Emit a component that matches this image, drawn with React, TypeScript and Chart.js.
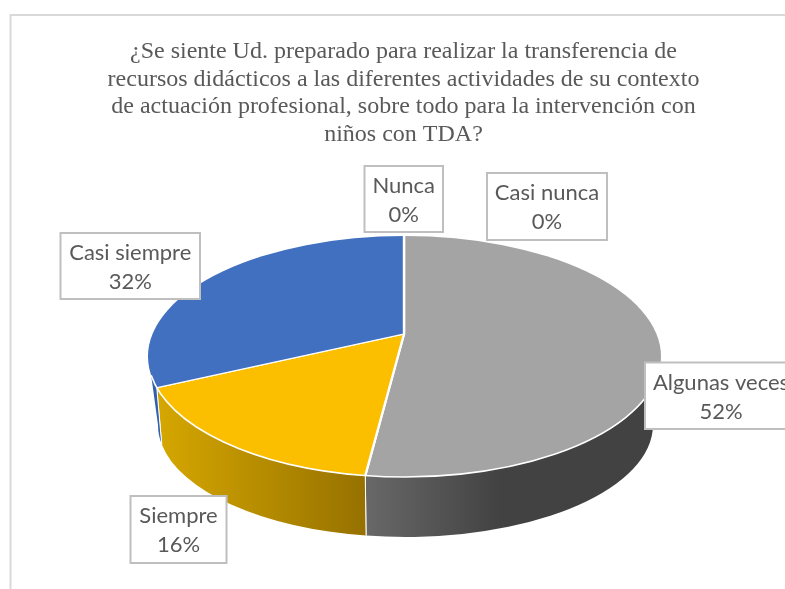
import { useEffect, useRef } from "react";
import { Chart, registerables } from "chart.js";

Chart.register(...registerables);

const categories = ["Nunca", "Casi nunca", "Algunas veces", "Siempre", "Casi siempre"];
const percentages = [0, 0, 52, 16, 32];
const topColors = ["#5B9BD5", "#ED7D31", "#A4A4A4", "#FBBF00", "#4270C0"];
const titleLines = [
  "¿Se siente Ud. preparado para realizar la transferencia de",
  "recursos didácticos a las diferentes actividades de su contexto",
  "de actuación profesional, sobre todo para la intervención con",
  "niños con TDA?",
];

// Label box layout: [left, top, right, bottom], same order as categories
const labelBoxes = [
  [364.5, 166, 443, 232],
  [487, 173, 607, 240],
  [645, 362.5, 797, 429],
  [130.5, 496, 226.5, 563],
  [60.5, 233, 200, 299],
];

const APEX = { x: 404, y: 334 };
const TILT = 0.462;
const TOP = { x: 404.5, y: 356.5, rx: 256.5, ry: 120.5 };
const BASE = { x: 405.5, y: 425, rx: 247.5, ry: 112 };
const T_MIN = (9 * Math.PI) / 180;
const T_MAX = (171 * Math.PI) / 180;

function rimParam(angle: number) {
  const dx = Math.cos(angle);
  const dy = TILT * Math.sin(angle);
  const ox = (APEX.x - TOP.x) / TOP.rx;
  const oy = (APEX.y - TOP.y) / TOP.ry;
  const vx = dx / TOP.rx;
  const vy = dy / TOP.ry;
  const a = vx * vx + vy * vy;
  const b = 2 * (ox * vx + oy * vy);
  const c = ox * ox + oy * oy - 1;
  const s = (-b + Math.sqrt(b * b - 4 * a * c)) / (2 * a);
  let t = Math.atan2(oy + s * vy, ox + s * vx);
  if (t < -Math.PI / 2 - 1e-6) t += Math.PI * 2;
  return t;
}

function baseParam(t: number) {
  const xt = TOP.x + TOP.rx * Math.cos(t);
  const xb = xt + (404.5 - xt) * 0.02;
  const c = Math.max(-1, Math.min(1, (xb - BASE.x) / BASE.rx));
  return Math.atan2(Math.sqrt(1 - c * c), c);
}

function wallFill(ctx: CanvasRenderingContext2D, index: number) {
  if (index === 2) {
    const g = ctx.createLinearGradient(366, 0, 500, 0);
    g.addColorStop(0, "#686868");
    g.addColorStop(1, "#424242");
    return g;
  }
  if (index === 3) {
    const g = ctx.createLinearGradient(157, 0, 366, 0);
    g.addColorStop(0, "#D6A700");
    g.addColorStop(1, "#967100");
    return g;
  }
  return "#3261AE";
}

const pie3d = {
  id: "pie3d",
  beforeDraw(chart: any) {
    const { ctx } = chart;
    ctx.save();
    ctx.strokeStyle = "#D9D9D9";
    ctx.lineWidth = 2;
    ctx.strokeRect(10.5, 15, 800, 600);
    ctx.restore();
  },
  beforeDatasetsDraw(chart: any) {
    const { ctx } = chart;
    const arcs = chart.getDatasetMeta(0).data;
    arcs.forEach((arc: any, i: number) => {
      if (arc.endAngle - arc.startAngle < 1e-6) return;
      let ts = rimParam(arc.startAngle);
      const te = rimParam(arc.endAngle);
      if (te <= ts) ts -= Math.PI * 2;
      const cs = Math.max(ts, T_MIN);
      const ce = Math.min(te, T_MAX);
      if (ce <= cs) return;
      ctx.save();
      ctx.beginPath();
      ctx.ellipse(TOP.x, TOP.y, TOP.rx, TOP.ry, 0, cs, ce, false);
      ctx.ellipse(BASE.x, BASE.y, BASE.rx, BASE.ry, 0, baseParam(ce), baseParam(cs), true);
      ctx.closePath();
      ctx.fillStyle = wallFill(ctx, i);
      ctx.fill();
      ctx.strokeStyle = "#FFFFFF";
      ctx.lineWidth = 1;
      [cs, ce].forEach((t) => {
        if (t <= T_MIN || t >= T_MAX) return;
        const b = baseParam(t);
        ctx.beginPath();
        ctx.moveTo(TOP.x + TOP.rx * Math.cos(t), TOP.y + TOP.ry * Math.sin(t));
        ctx.lineTo(BASE.x + BASE.rx * Math.cos(b), BASE.y + BASE.ry * Math.sin(b));
        ctx.stroke();
      });
      ctx.restore();
    });
    const first = arcs[0];
    ctx.save();
    ctx.beginPath();
    ctx.ellipse(TOP.x, TOP.y, TOP.rx, TOP.ry, 0, 0, Math.PI * 2);
    ctx.clip();
    ctx.translate(APEX.x, APEX.y);
    ctx.scale(1, TILT);
    ctx.translate(-first.x, -first.y);
  },
  afterDatasetsDraw(chart: any) {
    const { ctx } = chart;
    ctx.restore();
    ctx.save();
    ctx.strokeStyle = "#FFFFFF";
    ctx.lineWidth = 1.6;
    ctx.beginPath();
    ctx.ellipse(TOP.x, TOP.y, TOP.rx, TOP.ry, 0, T_MIN, T_MAX);
    ctx.stroke();
    categories.forEach((name, i) => {
      const [l, t, r, b] = labelBoxes[i];
      ctx.fillStyle = "#FFFFFF";
      ctx.fillRect(l, t, r - l, b - t);
      ctx.strokeStyle = "#BFBFBF";
      ctx.lineWidth = 2;
      ctx.strokeRect(l, t, r - l, b - t);
      ctx.fillStyle = "#595959";
      ctx.font = "22px Lato";
      ctx.textAlign = "center";
      ctx.textBaseline = "middle";
      const cx = (l + r) / 2;
      ctx.fillText(name, cx, t + 20);
      ctx.fillText(`${percentages[i]}%`, cx, t + 49);
    });
    ctx.restore();
  },
};

export default function App() {
  const ref = useRef<HTMLCanvasElement>(null);
  useEffect(() => {
    if (!ref.current) return;
    const chart = new Chart(ref.current, {
      type: "pie",
      data: {
        labels: categories,
        datasets: [
          {
            data: percentages,
            backgroundColor: topColors,
            borderColor: "#FFFFFF",
            borderWidth: 2.4,
            clip: false,
          } as any,
        ],
      },
      options: {
        responsive: false,
        animation: false,
        radius: 340,
        layout: { padding: { left: 22 } },
        plugins: {
          legend: { display: false },
          tooltip: { enabled: false },
          title: {
            display: true,
            text: titleLines,
            color: "#595959",
            font: { family: "'Liberation Serif'", size: 24, weight: "normal", lineHeight: 1.153 },
            padding: { top: 38, bottom: 10 },
          },
        },
      } as any,
      plugins: [pie3d],
    });
    return () => chart.destroy();
  }, []);
  return (
    <div style={{ position: "absolute", left: 0, top: 0, width: 785, height: 589, overflow: "hidden", background: "#FFFFFF" }}>
      <canvas ref={ref} width={785} height={589} style={{ display: "block" }} />
    </div>
  );
}
